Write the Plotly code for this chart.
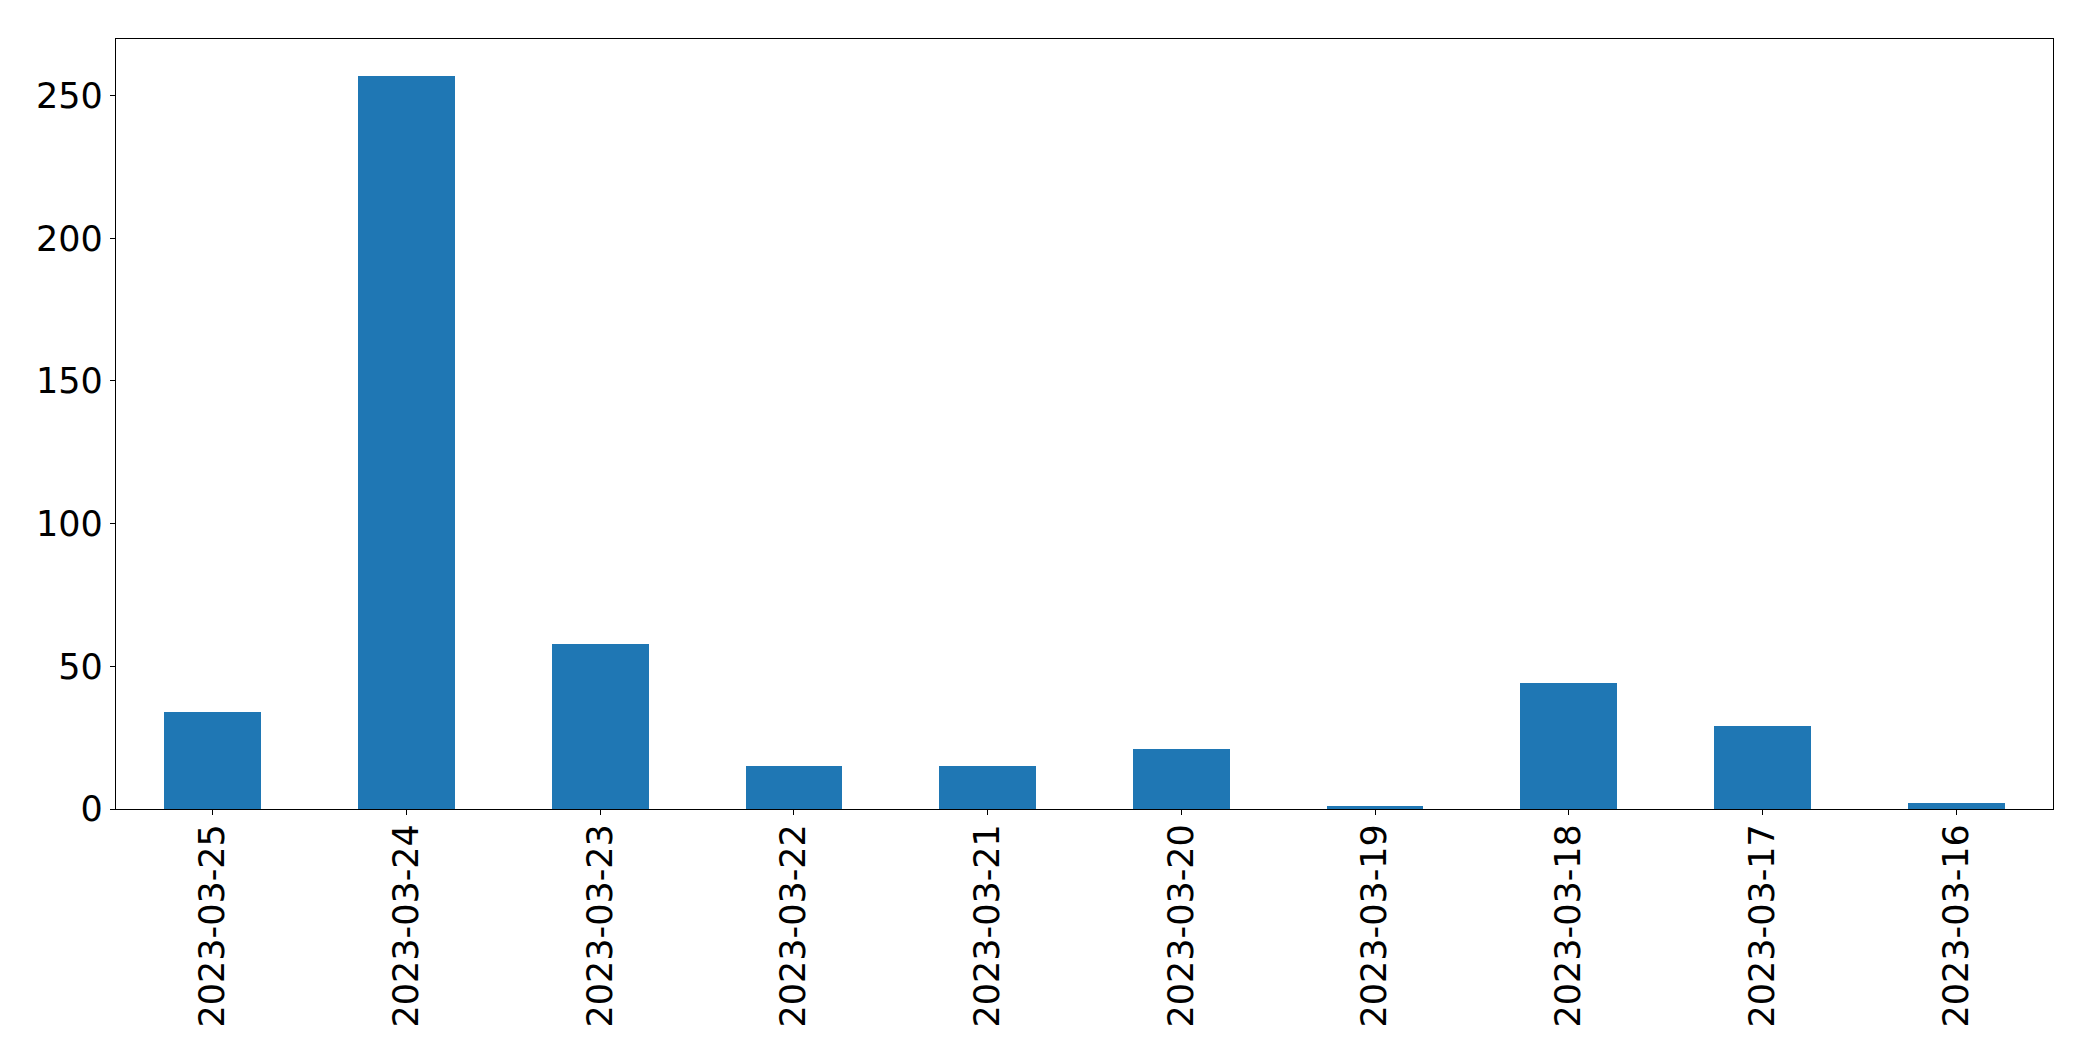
import plotly.graph_objects as go

dates = ["2023-03-25", "2023-03-24", "2023-03-23", "2023-03-22", "2023-03-21",
         "2023-03-20", "2023-03-19", "2023-03-18", "2023-03-17", "2023-03-16"]
counts = [34, 257, 58, 15, 15, 21, 1, 44, 29, 2]
y_ticks = [0, 50, 100, 150, 200, 250]

fig = go.Figure(go.Bar(x=list(range(len(dates))), y=counts, width=0.5,
                       marker=dict(color="#1f77b4", line=dict(width=0))))

font = dict(family="DejaVu Sans", size=35, color="black")
fig.update_layout(
    width=2093, height=1061, autosize=False,
    margin=dict(l=108, r=48, t=31, b=260),
    plot_bgcolor="white", paper_bgcolor="white",
    showlegend=False,
    bargap=0,
)
fig.update_xaxes(
    range=[-0.5, len(dates) - 0.5],
    tickmode="array", tickvals=list(range(len(dates))), ticktext=dates,
    tickangle=-90, tickfont=font,
    showline=True, linecolor="black", linewidth=1.3, mirror=True,
    ticks="outside", ticklen=5, tickcolor="black", tickwidth=1,
    ticklabelstandoff=-5,
    showgrid=False, zeroline=False,
)
fig.update_yaxes(
    range=[0, max(counts) * 1.05],
    tickmode="array", tickvals=y_ticks,
    tickfont=font,
    showline=True, linecolor="black", linewidth=1.3, mirror=True,
    ticks="outside", ticklen=5, tickcolor="black", tickwidth=1,
    showgrid=False, zeroline=False,
)
fig.write_html("out.html")
